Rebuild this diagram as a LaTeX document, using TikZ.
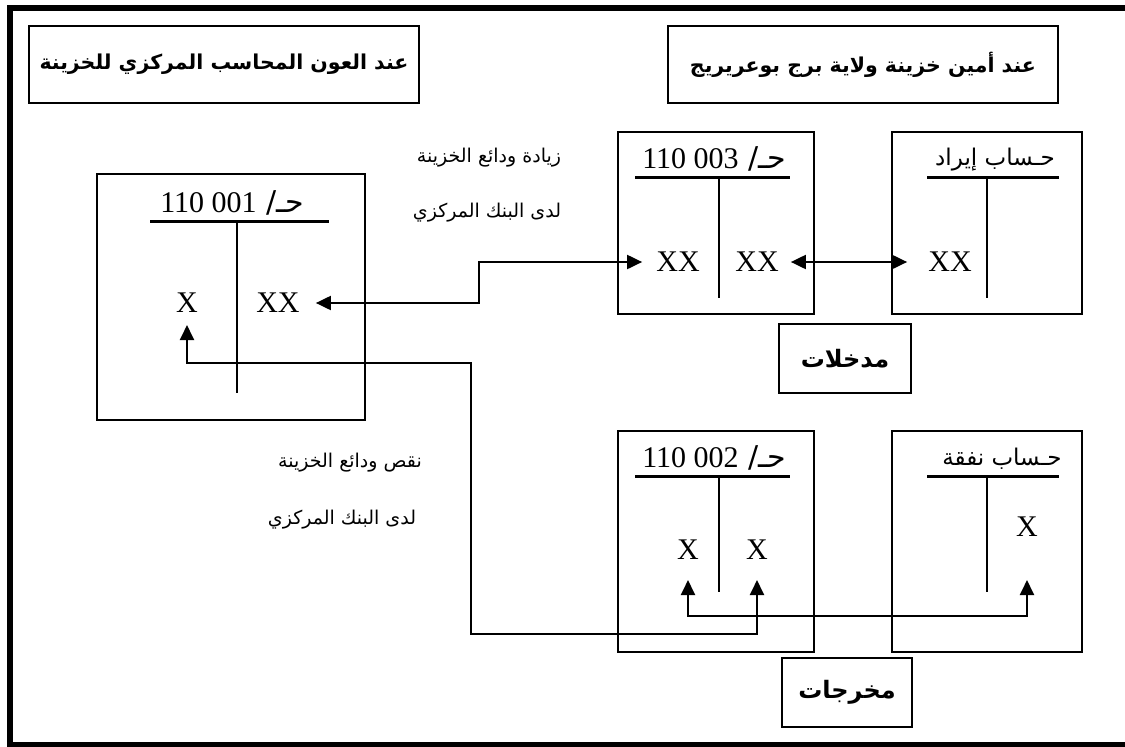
\documentclass[tikz,border=0pt]{standalone}
\usepackage{fontspec}
\setmainfont{Liberation Serif}
\newfontfamily\arabicfont[Script=Arabic]{DejaVu Sans}
\TeXXeTstate=1
\usetikzlibrary{arrows.meta}
\begin{document}
\begin{tikzpicture}[x=1pt,y=-1pt,
  box/.style={draw,line width=2pt,inner sep=0pt},
  headbox/.style={box,minimum width=390pt,minimum height=77pt,font=\arabicfont\bfseries\fontsize{20.5}{26}\selectfont},
  tagbox/.style={box,minimum width=132pt,minimum height=69pt,font=\arabicfont\bfseries\fontsize{24}{28}\selectfont},
  acct/.style={box,anchor=north west},
  entry/.style={inner sep=0pt,font=\fontsize{30}{32}\selectfont},
  ttl/.style={inner sep=0pt,font=\fontsize{30}{32}\selectfont},
  atitle/.style={inner sep=0pt,font=\arabicfont\fontsize{23}{26}\selectfont},
  note/.style={inner sep=0pt,font=\arabicfont\fontsize{19}{22}\selectfont},
  tbar/.style={line width=3pt},
  tstem/.style={line width=1.6pt},
  conn/.style={line width=2pt,{Triangle[length=15pt,width=14pt]}-{Triangle[length=15pt,width=14pt]}},
  frame/.style={line width=6pt}
]
\useasboundingbox (0,0) rectangle (1125,747);

% outer frame (open on the right)
\draw[frame] (1140,8) -- (10,8) -- (10,745) -- (1140,745);

% headings
\node[headbox] (headL) at (224,64.5) {\beginR عند العون المحاسب المركزي للخزينة\endR};
\node[headbox] (headR) at (863,64.5) {\beginR عند أمين خزينة ولاية برج بوعريريج\endR};

% account frames
\node[acct,minimum width=268pt,minimum height=246pt] (accL) at (96,173) {};
\node[acct,minimum width=196pt,minimum height=182pt] (acc3) at (617,131) {};
\node[acct,minimum width=190pt,minimum height=182pt] (accI) at (891,131) {};
\node[acct,minimum width=196pt,minimum height=221pt] (acc2) at (617,430) {};
\node[acct,minimum width=190pt,minimum height=221pt] (accN) at (891,430) {};

% tags
\node[tagbox] (tagIn) at (845,358.5) {\beginR مدخلات\endR};
\node[tagbox,minimum width=130pt] (tagOut) at (847,692.5) {\beginR مخرجات\endR};

% T-account titles
\node[ttl] (tL) at (232,203) {{\arabicfont\beginR حـ/ \beginL{\rmfamily 110 001}\endL\endR}};
\node[ttl] (t3) at (714,159) {{\arabicfont\beginR حـ/ \beginL{\rmfamily 110 003}\endL\endR}};
\node[atitle] (tI) at (995,160) {\beginR حـساب إيراد\endR};
\node[ttl] (t2) at (714,458) {{\arabicfont\beginR حـ/ \beginL{\rmfamily 110 002}\endL\endR}};
\node[atitle] (tN) at (1002,459) {\beginR حـساب نفقة\endR};

% T-account rules
\draw[tbar] (150,221) -- (329,221);
\draw[tstem] (237,221) -- (237,393);
\draw[tbar] (635,177) -- (790,177);
\draw[tstem] (719,177) -- (719,298);
\draw[tbar] (927,177) -- (1059,177);
\draw[tstem] (987,177) -- (987,298);
\draw[tbar] (635,476) -- (790,476);
\draw[tstem] (719,476) -- (719,592);
\draw[tbar] (927,476) -- (1059,476);
\draw[tstem] (987,476) -- (987,592);

% entries
\node[entry] (xL) at (187,303) {X};
\node[entry] (xxL) at (278,303) {XX};
\node[entry] (xx3a) at (678,262) {XX};
\node[entry] (xx3b) at (757,262) {XX};
\node[entry] (xxI) at (950,262) {XX};
\node[entry] (x2a) at (688,550) {X};
\node[entry] (x2b) at (757,550) {X};
\node[entry] (xN) at (1027,527) {X};

% notes
\node[note] (nUp1) at (489,158) {\beginR زيادة ودائع الخزينة\endR};
\node[note] (nUp2) at (487,213) {\beginR لدى البنك المركزي\endR};
\node[note] (nDn1) at (350,463) {\beginR نقص ودائع الخزينة\endR};
\node[note] (nDn2) at (342,520) {\beginR لدى البنك المركزي\endR};

% bends of the connectors
\coordinate (j1) at (479,283);
\coordinate (j2) at (471,363);
\coordinate (j3) at (471,634);
\coordinate (j4) at (850,616);

% connectors
\draw[conn] ([xshift=16pt]xxL.east) -| (j1) |- ([xshift=-14pt]xx3a.west);
\draw[conn] ([xshift=12pt]xx3b.east) -- ([xshift=-21pt]xxI.west);
\draw[conn] ([yshift=-12pt]xL.south) |- (j2) -- (j3) -| ([yshift=-20pt]x2b.south);
\draw[conn] ([yshift=-20pt]x2a.south) |- (j4) -| ([yshift=-43pt]xN.south);
\end{tikzpicture}
\end{document}
